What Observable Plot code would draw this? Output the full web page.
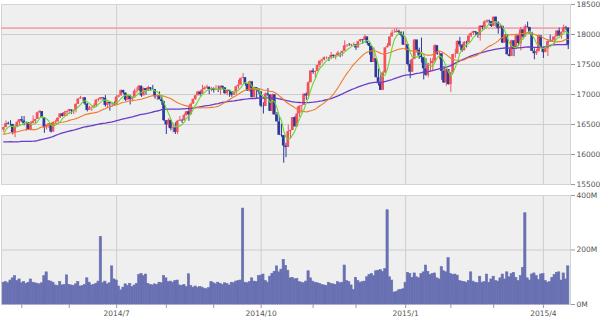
<!DOCTYPE html>
<html><head><meta charset="utf-8">
<script src="https://cdn.jsdelivr.net/npm/d3@7"></script>
<script src="https://cdn.jsdelivr.net/npm/@observablehq/plot@0.6"></script>
<style>
body{margin:0;background:#fff}
#c{width:600px;height:318px;overflow:hidden}
svg{display:block;overflow:visible}
</style>
</head><body><div id="c"></div>
<script>
// Trading days (month -> days)
const tradingDays = [
 ["2014-04",[21,22,23,24,25,28,29,30]],
 ["2014-05",[1,2,5,6,7,8,9,12,13,14,15,16,19,20,21,22,23,27,28,29,30]],
 ["2014-06",[2,3,4,5,6,9,10,11,12,13,16,17,18,19,20,23,24,25,26,27,30]],
 ["2014-07",[1,2,3,7,8,9,10,11,14,15,16,17,18,21,22,23,24,25,28,29,30,31]],
 ["2014-08",[1,4,5,6,7,8,11,12,13,14,15,18,19,20,21,22,25,26,27,28,29]],
 ["2014-09",[2,3,4,5,8,9,10,11,12,15,16,17,18,19,22,23,24,25,26,29,30]],
 ["2014-10",[1,2,3,6,7,8,9,10,13,14,15,16,17,20,21,22,23,24,27,28,29,30,31]],
 ["2014-11",[3,4,5,6,7,10,11,12,13,14,17,18,19,20,21,24,25,26,28]],
 ["2014-12",[1,2,3,4,5,8,9,10,11,12,15,16,17,18,19,22,23,24,26,29,30,31]],
 ["2015-01",[2,5,6,7,8,9,12,13,14,15,16,20,21,22,23,26,27,28,29,30]],
 ["2015-02",[2,3,4,5,6,9,10,11,12,13,17,18,19,20,23,24,25,26,27]],
 ["2015-03",[2,3,4,5,6,9,10,11,12,13,16,17,18,19,20,23,24,25,26,27,30,31]],
 ["2015-04",[1,2,6,7,8,9,10,13,14,15,16,17]]
];

const open = [
 16409,16449,16514,16502,16501,16361,16448,16535,
 16581,16558,16513,16531,16401,16518,16551,16584,16696,16715,16613,16447,16492,16512,16374,16533,16543,16606,16676,16634,16698,
 16717,16743,16722,16738,16836,16924,16943,16945,16843,16734,16776,16781,16808,16906,16921,16947,16937,16818,16868,16846,16851,
 16827,16957,16976,17068,17024,16906,16985,16915,16944,17055,17060,17138,16977,17100,17052,17114,17087,17083,16961,16983,16913,16881,
 16563,16493,16570,16430,16443,16369,16554,16570,16561,16652,16713,16663,16839,16920,16979,17040,17001,17077,17107,17122,17080,
 17098,17068,17079,17069,17138,17111,17014,17068,17049,16988,17031,17131,17157,17266,17280,17173,17056,17211,16946,17113,17071,
 17043,16805,16801,17009,16992,16719,16994,16660,16544,16321,16315,16142,16117,16380,16400,16615,16462,16677,16805,16818,17006,16975,17196,
 17391,17367,17384,17484,17555,17573,17614,17615,17612,17652,17635,17648,17688,17686,17719,17810,17818,17815,17828,
 17828,17776,17880,17913,17901,17959,17853,17801,17533,17597,17280,17180,17068,17357,17778,17804,17959,18024,18030,18053,18038,17983,
 17823,17833,17501,17371,17585,17907,17737,17640,17613,17427,17320,17511,17516,17554,17813,17672,17678,17387,17191,17416,
 17165,17362,17666,17673,17885,17825,17729,17868,17862,17973,18019,18047,18029,17986,18140,18117,18209,18225,18215,
 18133,18289,18204,18097,18136,17857,17996,17662,17635,17895,17749,17977,17849,18076,17959,18128,18116,18011,17719,17679,17713,17976,
 17776,17698,17763,17881,17876,17903,17958,18058,17977,18036,18113,18106
];
const high = [
 16455,16558,16540,16564,16501,16492,16553,16581,
 16632,16632,16545,16531,16546,16643,16584,16707,16736,16715,16613,16492,16512,16512,16541,16573,16606,16682,16689,16720,16720,
 16756,16743,16740,16845,16925,16970,16950,16945,16843,16803,16793,16845,16912,16935,16950,16950,16982,16871,16868,16855,16875,
 16987,16983,17074,17068,17024,16990,16985,16958,17088,17112,17151,17138,17112,17100,17138,17114,17151,17083,16993,17043,16974,16881,
 16563,16597,16570,16515,16528,16562,16632,16585,16674,16716,16809,16856,16924,16986,17056,17058,17154,17130,17155,17122,17120,
 17111,17146,17140,17138,17138,17111,17068,17068,17049,17057,17139,17236,17272,17350,17280,17173,17223,17211,17124,17113,17098,
 17043,16862,17027,17099,16992,17006,16994,16700,16640,16505,16315,16186,16487,16405,16615,16637,16791,16805,16818,17006,17026,17213,17395,
 17431,17389,17491,17560,17586,17628,17626,17615,17701,17660,17660,17718,17688,17719,17894,17830,17851,17836,17860,
 17828,17880,17919,17914,17991,17959,17853,17801,17776,17597,17427,17358,17384,17778,17850,17963,18069,18086,18103,18073,18038,18044,
 17951,17833,17563,17597,17917,17907,17774,17941,17613,17599,17511,17600,17608,17830,17813,17712,17678,17469,17435,17416,
 17362,17666,17754,17895,17951,17825,17882,17888,17997,18020,18057,18047,18029,18141,18140,18227,18244,18240,18215,
 18289,18289,18204,18173,18136,18000,17996,17750,17905,17895,17985,17977,18117,18076,18163,18206,18117,18036,17762,17749,17991,17976,
 17776,17797,17916,17990,17960,17972,18062,18106,18042,18157,18135,18106
];
const low = [
 16370,16449,16495,16468,16326,16280,16448,16475,
 16529,16478,16384,16399,16401,16518,16500,16584,16680,16611,16353,16405,16432,16358,16374,16512,16543,16606,16624,16634,16630,
 16662,16669,16665,16694,16836,16918,16888,16817,16710,16734,16716,16762,16784,16876,16900,16894,16790,16771,16722,16791,16812,
 16827,16945,16976,17003,16880,16906,16825,16889,16944,17014,17060,16953,16977,16988,17052,17055,17067,16921,16898,16911,16820,16548,
 16333,16440,16394,16361,16334,16333,16554,16517,16561,16636,16553,16663,16839,16900,16979,16972,17001,17077,17090,16997,17045,
 17024,17068,17032,16992,17073,17004,16980,16953,16955,16988,16993,17089,17157,17266,17137,17055,17037,16944,16946,16928,17001,
 16782,16674,16801,16961,16716,16660,16658,16543,16321,16288,15855,15948,16117,16254,16400,16458,16462,16618,16690,16818,16903,16921,17196,
 17336,17262,17384,17443,17510,17561,17584,17550,17580,17602,17578,17648,17615,17630,17719,17786,17802,17800,17799,
 17735,17776,17867,17838,17901,17821,17657,17531,17533,17280,17141,17067,17068,17357,17778,17804,17959,18024,18030,18002,17955,17820,
 17731,17476,17262,17371,17585,17692,17585,17522,17243,17303,17279,17378,17396,17534,17652,17577,17236,17189,17137,17158,
 17037,17362,17605,17673,17790,17704,17729,17776,17862,17946,17986,17975,17938,17889,18076,18083,18183,18155,18118,
 18133,18122,18006,18097,17849,17857,17662,17627,17635,17630,17749,17800,17726,17926,17959,18108,18010,17718,17579,17650,17713,17775,
 17601,17698,17632,17874,17876,17830,17958,17970,17921,18036,18069,17749
];
const close = [
 16449,16514,16502,16501,16361,16448,16535,16581,
 16558,16513,16531,16401,16518,16551,16584,16696,16715,16613,16447,16492,16512,16374,16533,16543,16606,16676,16634,16698,16717,
 16743,16722,16738,16836,16924,16943,16945,16843,16734,16776,16781,16808,16906,16921,16947,16937,16818,16868,16846,16851,16827,
 16957,16976,17068,17024,16906,16985,16915,16944,17055,17060,17138,16977,17100,17052,17114,17087,17083,16961,16983,16913,16881,16563,
 16493,16570,16430,16443,16369,16554,16570,16561,16652,16713,16663,16839,16920,16979,17040,17001,17077,17107,17122,17080,17098,
 17068,17079,17069,17138,17111,17014,17068,17049,16988,17031,17131,17157,17266,17280,17173,17056,17211,16946,17113,17071,17043,
 16805,16801,17009,16992,16719,16994,16660,16544,16321,16315,16142,16117,16380,16400,16615,16462,16677,16805,16818,17006,16975,17196,17391,
 17367,17384,17484,17555,17573,17614,17615,17612,17652,17635,17648,17688,17686,17719,17810,17818,17815,17828,17828,
 17776,17880,17913,17901,17959,17853,17801,17533,17597,17280,17180,17068,17357,17778,17804,17959,18024,18030,18053,18038,17983,17823,
 17833,17501,17371,17585,17907,17737,17640,17613,17427,17320,17511,17516,17554,17813,17672,17678,17387,17191,17416,17165,
 17362,17666,17673,17885,17825,17729,17868,17862,17973,18019,18047,18029,17986,18140,18117,18209,18225,18215,18133,
 18289,18204,18097,18136,17857,17996,17662,17635,17895,17749,17977,17849,18076,17959,18128,18116,18011,17719,17679,17713,17976,17776,
 17698,17763,17881,17876,17903,17958,18058,17977,18036,18113,18106,17826
];
// volume, millions of shares
const volume = [
 80,82,78,88,96,104,86,92,
 78,82,76,80,92,80,78,76,74,78,104,118,86,84,80,70,68,82,70,72,107,
 72,70,68,74,82,66,68,72,96,80,70,72,76,84,248,78,84,74,78,140,92,
 88,66,52,62,74,68,76,64,70,76,108,112,104,110,76,72,70,74,72,80,78,104,
 96,82,84,80,86,88,70,68,72,64,111,68,62,66,60,64,62,58,56,60,83,
 78,74,80,76,72,78,76,70,80,78,84,86,88,352,80,78,82,96,84,82,104,
 106,110,86,80,102,112,120,140,118,128,164,142,124,96,98,92,94,82,80,78,84,122,96,
 84,80,78,76,72,70,68,80,76,74,72,82,78,80,143,86,82,70,54,
 98,86,80,82,84,100,108,112,104,122,124,126,120,130,346,100,88,44,46,52,54,56,
 80,116,112,98,114,100,96,112,118,143,120,108,112,114,96,92,137,122,118,170,
 112,108,110,106,86,84,82,80,86,118,84,80,78,102,80,82,110,80,92,
 102,86,84,96,110,92,118,100,112,116,98,86,104,134,335,96,88,110,114,104,90,110,
 112,86,80,82,98,108,116,118,88,114,92,140
];
// closes before the window (2014-01-02 .. 2014-04-17), used for the moving averages
const priorClose = [
 16441,16469,16426,16531,16462,16444,16437,16257,16374,16482,16418,16459,16414,16373,16198,15879,15838,15929,15739,15849,15699,
 15373,15445,15441,15628,15795,15801,15994,15964,16027,16154,16130,16040,16134,16104,16208,16179,16198,16272,16322,
 16168,16396,16361,16422,16453,16418,16351,16340,16109,16066,16247,16337,16223,16332,16303,16276,16368,16268,16264,16324,16458,
 16533,16573,16573,16413,16246,16256,16437,16171,16027,16174,16263,16425,16409
];
const maPeriods = [5, 25, 75];
const priceTicks = [15500,16000,16500,17000,17500,18000,18500];
const volumeTicks = [0,200,400];

const UP = "#f2525e", DOWN = "#2b3a9a", VOL = "#6870b2";
const MA_COLORS = ["#66d92a", "#f07a2a", "#6a3cc8"];
const BG = "#efefef", GRID = "#cdcdcd";
const FS = 7.5, TXT = "#555";

const dates = tradingDays.flatMap(([m, ds]) => ds.map(d => m + "-" + String(d).padStart(2, "0")));
const allClose = priorClose.concat(close);
const ma = n => close.map((_, i) => { const j = priorClose.length + i; return d3.mean(allClose.slice(j - n + 1, j + 1)); });
const mas = maPeriods.map(ma);
const rows = close.map((c, i) => ({
  i, date: dates[i], o: open[i], h: high[i], l: low[i], c, v: volume[i],
  up: c >= open[i], ma5: mas[0][i], ma25: mas[1][i], ma75: mas[2][i]
}));
const prevClose = close[close.length - 2];

// month starts
const monthStarts = [];
rows.forEach((r, k) => { if (k > 0 && r.date.slice(0, 7) !== rows[k - 1].date.slice(0, 7)) monthStarts.push(k); });
const monthLabel = k => { const [y, m] = rows[k].date.split("-").map(Number); return (m - 1) % 3 === 0 ? `${y}/${m}` : ""; };
const quarterStarts = monthStarts.filter(k => monthLabel(k) !== "");

const N = rows.length;
const fontStyle = {fontFamily: "DejaVu Sans, sans-serif", fontSize: FS + "px", color: TXT, background: "transparent", overflow: "visible"};

const price = Plot.plot({
  width: 600, height: 190,
  marginLeft: 1, marginRight: 30, marginTop: 4, marginBottom: 6,
  x: {type: "linear", domain: [-1, N], axis: null, label: null},
  y: {domain: [15500, 18500], label: null},
  style: fontStyle,
  marks: [
    Plot.frame({fill: BG, stroke: null}),
    Plot.gridY(priceTicks, {stroke: GRID, strokeOpacity: 1}),
    Plot.gridX(quarterStarts, {stroke: GRID, strokeOpacity: 1}),
    Plot.frame({stroke: "#d4d4d4"}),
    Plot.ruleY([prevClose], {stroke: "#f3a5ac", strokeWidth: 1.6}),
    Plot.ruleX(rows, {x: "i", y1: "l", y2: "h", stroke: d => d.up ? UP : DOWN, strokeWidth: 1}),
    Plot.rect(rows, {x1: d => d.i - 0.6, x2: d => d.i + 0.6, y1: "o", y2: "c", fill: d => d.up ? UP : DOWN}),
    Plot.line(rows, {x: "i", y: "ma75", stroke: MA_COLORS[2], strokeWidth: 1.3}),
    Plot.line(rows, {x: "i", y: "ma25", stroke: MA_COLORS[1], strokeWidth: 1.1}),
    Plot.line(rows, {x: "i", y: "ma5", stroke: MA_COLORS[0], strokeWidth: 1.1}),
    Plot.axisY(priceTicks, {anchor: "right", label: null, tickSize: 4, tickPadding: 2, tickFormat: d => String(d), stroke: "#999", fontSize: FS, fill: TXT})
  ]
});

const vol = Plot.plot({
  width: 600, height: 128,
  marginLeft: 1, marginRight: 30, marginTop: 5, marginBottom: 14,
  x: {type: "linear", domain: [-1, N], label: null},
  y: {domain: [0, 400], label: null},
  style: fontStyle,
  marks: [
    Plot.frame({fill: BG, stroke: null}),
    Plot.gridY([200], {stroke: GRID, strokeOpacity: 1}),
    Plot.gridX(quarterStarts, {stroke: GRID, strokeOpacity: 1}),
    Plot.frame({stroke: "#d4d4d4"}),
    Plot.rectY(rows, {x1: d => d.i - 0.5, x2: d => d.i + 0.5, y: "v", fill: VOL, stroke: VOL, strokeWidth: 0.6}),
    Plot.axisY(volumeTicks, {anchor: "right", label: null, tickSize: 4, tickPadding: 2, tickFormat: d => d + "M", stroke: "#999", fontSize: FS, fill: TXT}),
    Plot.axisX(monthStarts, {anchor: "bottom", label: null, tickSize: 4, tickPadding: 2, tickFormat: monthLabel, stroke: "#999", fontSize: FS, fill: TXT})
  ]
});

const c = document.getElementById("c");
c.append(price, vol);
</script>
</body></html>
